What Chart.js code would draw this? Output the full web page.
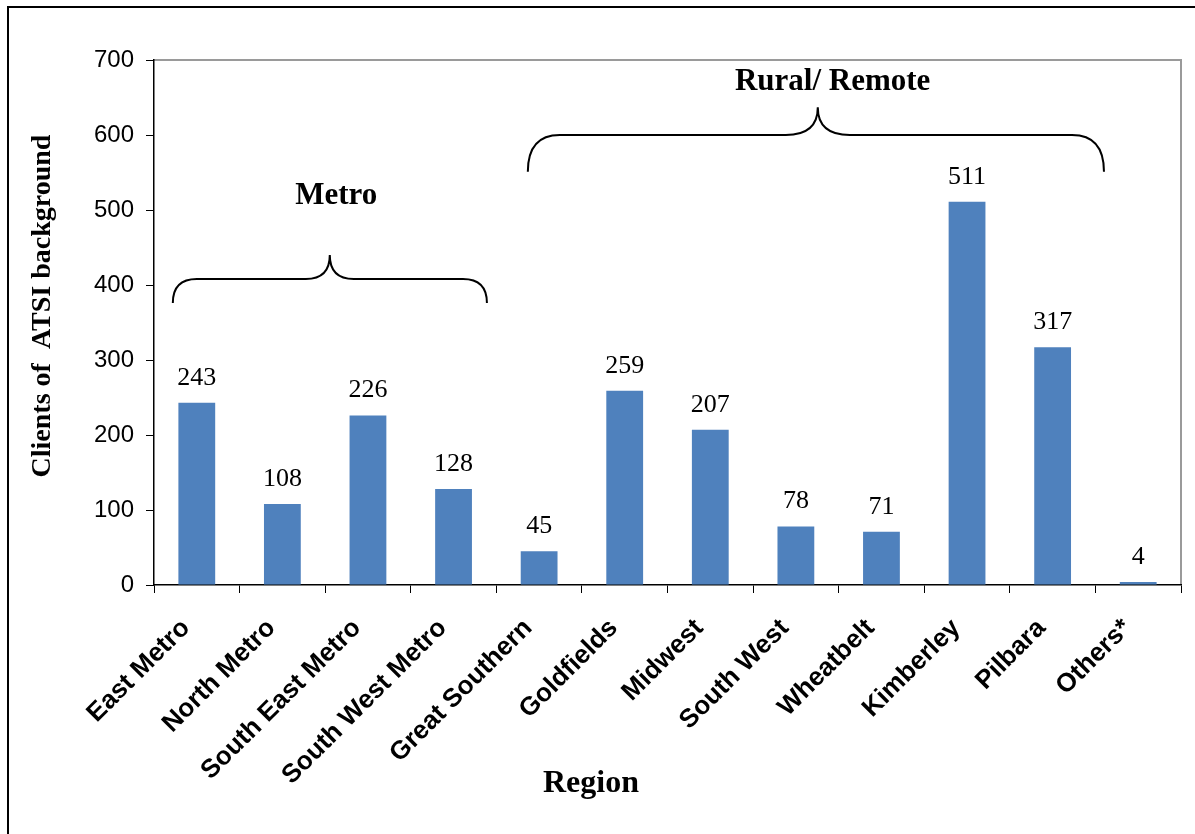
<!DOCTYPE html>
<html>
<head>
<meta charset="utf-8">
<script src="https://cdn.jsdelivr.net/npm/chart.js@4.4.1/dist/chart.umd.min.js"></script>
<style>
    html, body { margin: 0; padding: 0; background: #ffffff; }
    canvas { display: block; }
</style>
</head>
<body>
<canvas id="chart" width="1195" height="834"></canvas>
<script>
// Clients of ATSI background by region

const regions = ['East Metro', 'North Metro', 'South East Metro', 'South West Metro', 'Great Southern',
    'Goldfields', 'Midwest', 'South West', 'Wheatbelt', 'Kimberley', 'Pilbara', 'Others*'];
const clients = [243, 108, 226, 128, 45, 259, 207, 78, 71, 511, 317, 4];

// group braces, in category / value units
const groups = [
    { label: 'Metro', from: -0.28, to: 3.39, mid: 1.554, tip: 376, bar: 408, peak: 440, textX: 1.63, textY: 519, r: 24 },
    { label: 'Rural/ Remote', from: 3.868, to: 10.60, mid: 7.256, tip: 551, bar: 600, peak: 637, textX: 7.43, textY: 671, r: 32 }
];

const SERIF = '"Liberation Serif", "Times New Roman", serif';
const SANS = '"Liberation Sans", Arial, sans-serif';
const BAR_COLOR = '#4F81BD';

Chart.defaults.color = '#000000';

const decorations = {
    id: 'decorations',
    beforeDraw(chart) {
        const ctx = chart.ctx;
        const a = chart.chartArea;
        ctx.save();
        // outer frame (top + left)
        ctx.strokeStyle = '#000';
        ctx.lineWidth = 2;
        ctx.beginPath();
        ctx.moveTo(8, 834);
        ctx.lineTo(8, 7);
        ctx.lineTo(1195, 7);
        ctx.stroke();
        // plot area top / right edges
        ctx.strokeStyle = '#9a9a9a';
        ctx.lineWidth = 2;
        ctx.beginPath();
        ctx.moveTo(a.left, a.top);
        ctx.lineTo(a.right, a.top);
        ctx.lineTo(a.right, a.bottom);
        ctx.stroke();
        ctx.restore();
    },
    afterDraw(chart) {
        const ctx = chart.ctx;
        const xs = chart.scales.x;
        const ys = chart.scales.y;
        ctx.save();

        // value labels
        const meta = chart.getDatasetMeta(0);
        ctx.font = '26px ' + SERIF;
        ctx.textAlign = 'center';
        ctx.textBaseline = 'bottom';
        ctx.fillStyle = '#000';
        meta.data.forEach((bar, i) => {
            ctx.fillText(String(clients[i]), bar.x, bar.y - 12);
        });

        // braces + group names
        ctx.strokeStyle = '#000';
        ctx.lineWidth = 2;
        groups.forEach(g => {
            const x1 = xs.getPixelForValue(g.from);
            const x2 = xs.getPixelForValue(g.to);
            const xm = xs.getPixelForValue(g.mid);
            const yt = ys.getPixelForValue(g.tip);
            const yb = ys.getPixelForValue(g.bar);
            const yp = ys.getPixelForValue(g.peak);
            const r = g.r;
            ctx.beginPath();
            ctx.moveTo(x1, yt);
            ctx.quadraticCurveTo(x1, yb, x1 + r, yb);
            ctx.lineTo(xm - r, yb);
            ctx.quadraticCurveTo(xm, yb, xm, yp);
            ctx.quadraticCurveTo(xm, yb, xm + r, yb);
            ctx.lineTo(x2 - r, yb);
            ctx.quadraticCurveTo(x2, yb, x2, yt);
            ctx.stroke();

            ctx.font = 'bold 31px ' + SERIF;
            ctx.textAlign = 'center';
            ctx.textBaseline = 'middle';
            ctx.fillText(g.label, xs.getPixelForValue(g.textX), ys.getPixelForValue(g.textY));
        });

        // axis titles
        ctx.font = 'bold 32px ' + SERIF;
        ctx.textAlign = 'center';
        ctx.textBaseline = 'alphabetic';
        ctx.fillText('Region', 591, 792);

        ctx.translate(43, 306);
        ctx.rotate(-Math.PI / 2);
        ctx.font = 'bold 28px ' + SERIF;
        ctx.textBaseline = 'middle';
        ctx.fillText('Clients of  ATSI background', 0, 0);
        ctx.restore();
    }
};

new Chart(document.getElementById('chart'), {
    type: 'bar',
    data: {
        labels: regions,
        datasets: [{
            label: 'Clients',
            data: clients,
            backgroundColor: BAR_COLOR,
            categoryPercentage: 1,
            barPercentage: 0.43
        }]
    },
    options: {
        responsive: false,
        animation: false,
        layout: { padding: { left: 0, top: 60, right: 14, bottom: 0 } },
        plugins: { legend: { display: false }, tooltip: { enabled: false } },
        scales: {
            x: {
                grid: { display: true, drawOnChartArea: false, tickLength: 8, color: '#000', offset: true },
                border: { color: '#000', width: 1.5 },
                ticks: {
                    font: { family: SANS, size: 26, weight: 'bold' },
                    color: '#000',
                    maxRotation: 45,
                    minRotation: 45,
                    autoSkip: false,
                    padding: 20,
                    labelOffset: -11
                },
                afterFit: s => { s.height = 249; }
            },
            y: {
                min: 0,
                max: 700,
                grid: { display: true, drawOnChartArea: false, tickLength: 8, color: '#000' },
                border: { color: '#000', width: 1.5 },
                ticks: {
                    stepSize: 100,
                    font: { family: SANS, size: 24 },
                    color: '#000',
                    padding: 12
                },
                afterFit: s => { s.width = 154; }
            }
        }
    },
    plugins: [decorations]
});
</script>
</body>
</html>
